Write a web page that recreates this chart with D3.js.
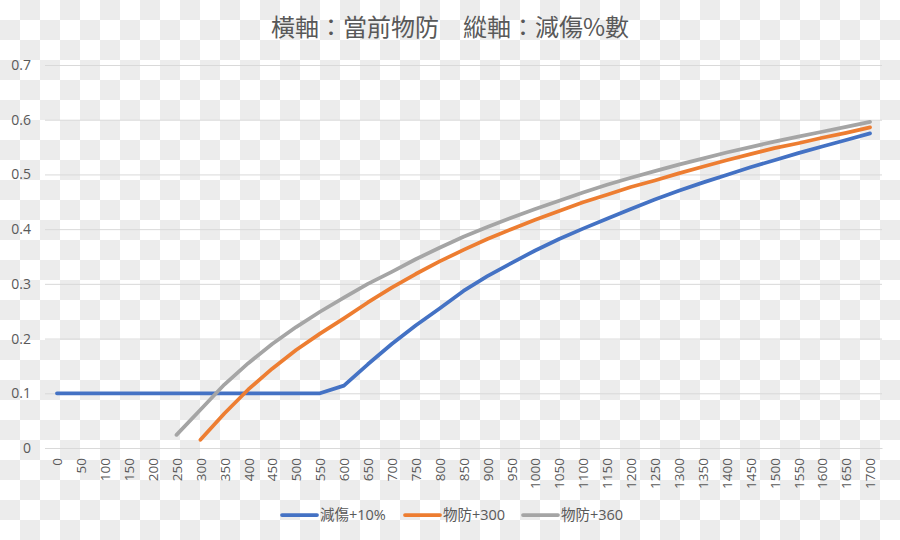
<!DOCTYPE html>
<html>
<head>
<meta charset="utf-8">
<script src="https://cdn.jsdelivr.net/npm/d3@7"></script>
<style>
    body {
        margin: 0;
        background-color: #ffffff;
        background-image: conic-gradient(#ececec 0 25%, #ffffff 0 50%, #ececec 0 75%, #ffffff 0);
        background-size: 40px 40px;
    }
    svg { display: block; }
</style>
</head>
<body>
<script>
var categories = ["0","50","100","150","200","250","300","350","400","450","500","550","600","650","700","750","800","850",
    "900","950","1000","1050","1100","1150","1200","1250","1300","1350","1400","1450","1500","1550","1600","1650","1700"];

var seriesNames = ["減傷+10%", "物防+300", "物防+360"];

var blueValues = [0.1,0.1,0.1,0.1,0.1,0.1,0.1,0.1,0.1,0.1,0.1,0.1,0.114,0.153,0.19,0.224,0.255,0.287,
    0.314,0.338,0.361,0.382,0.401,0.419,0.437,0.454,0.47,0.485,0.499,0.513,0.526,0.539,0.551,0.563,0.575];

var orangeValues = [null,null,null,null,null,null,0.015,0.063,0.107,0.145,0.179,0.209,0.237,0.266,0.293,0.318,0.341,0.362,
    0.382,0.4,0.417,0.433,0.449,0.463,0.477,0.489,0.502,0.514,0.526,0.537,0.548,0.557,0.567,0.576,0.586];

var grayValues = [null,null,null,null,null,0.024,0.07,0.116,0.155,0.19,0.221,0.249,0.275,0.3,0.322,0.345,0.366,0.386,
    0.404,0.421,0.437,0.452,0.467,0.481,0.494,0.506,0.518,0.529,0.54,0.55,0.56,0.569,0.578,0.587,0.596];

var yTicks = [0, 0.1, 0.2, 0.3, 0.4, 0.5, 0.6, 0.7];
var yTickLabels = ["0", "0.1", "0.2", "0.3", "0.4", "0.5", "0.6", "0.7"];

var colors = ["#4472C4", "#ED7D31", "#A5A5A5"];
var series = [blueValues, orangeValues, grayValues];

var width = 900, height = 540;
var labelFont = "'Open Sans', 'Noto Sans CJK TC', sans-serif";
var textColor = "#595959";

var svg = d3.select("body").append("svg")
    .attr("width", width)
    .attr("height", height);

var x = d3.scalePoint()
    .domain(categories)
    .range([45, 882])
    .padding(0.5);

var y = d3.scaleLinear()
    .domain([0, 0.7])
    .range([448, 65]);

// title
svg.append("text")
    .attr("x", 450)
    .attr("y", 36)
    .style("text-anchor", "middle")
    .attr("font-family", "'Noto Sans CJK TC', sans-serif")
    .attr("font-size", "24px")
    .attr("fill", textColor)
    .text("橫軸：當前物防　縱軸：減傷%數");

// gridlines + y labels
var yAxis = d3.axisLeft(y)
    .tickValues(yTicks)
    .tickSize(-(882 - 45))
    .tickPadding(14)
    .tickFormat(function(d, i) { return yTickLabels[i]; });
var gy = svg.append("g")
    .attr("transform", "translate(45,0)")
    .call(yAxis);
gy.select(".domain").remove();
gy.selectAll(".tick line").attr("stroke", "#d9d9d9");
gy.selectAll(".tick text")
    .attr("fill", textColor)
    .attr("font-family", labelFont)
    .attr("font-size", "14px");

// x labels
var xAxis = d3.axisBottom(x).tickSize(0).tickPadding(0);
var gx = svg.append("g")
    .attr("transform", "translate(0,448)")
    .call(xAxis);
gx.select(".domain").attr("stroke", "#d9d9d9");
gx.selectAll(".tick text")
    .attr("fill", textColor)
    .attr("font-family", labelFont)
    .attr("font-size", "13.5px")
    .attr("transform", "rotate(-90)")
    .attr("x", -10)
    .attr("y", 0)
    .attr("dy", "0.35em")
    .style("text-anchor", "end");

var line = d3.line()
    .defined(function(d) { return d != null; })
    .x(function(d, i) { return x(categories[i]); })
    .y(function(d) { return y(d); });

series.forEach(function(values, k) {
    svg.append("path")
        .datum(values)
        .attr("d", line)
        .attr("fill", "none")
        .attr("stroke", colors[k])
        .attr("stroke-width", 3.75)
        .attr("stroke-linejoin", "round")
        .attr("stroke-linecap", "round");
});

//Creating legend
var legendX = [282, 405, 523];
seriesNames.forEach(function(name, k) {
    svg.append("line")
        .attr("x1", legendX[k])
        .attr("x2", legendX[k] + 35)
        .attr("y1", 515)
        .attr("y2", 515)
        .attr("stroke", colors[k])
        .attr("stroke-width", 3.75)
        .attr("stroke-linecap", "round");
    svg.append("text")
        .attr("x", legendX[k] + 38)
        .attr("y", 515)
        .attr("dy", "0.35em")
        .attr("font-family", labelFont)
        .attr("font-size", "14.5px")
        .attr("fill", textColor)
        .text(name);
});
</script>
</body>
</html>
